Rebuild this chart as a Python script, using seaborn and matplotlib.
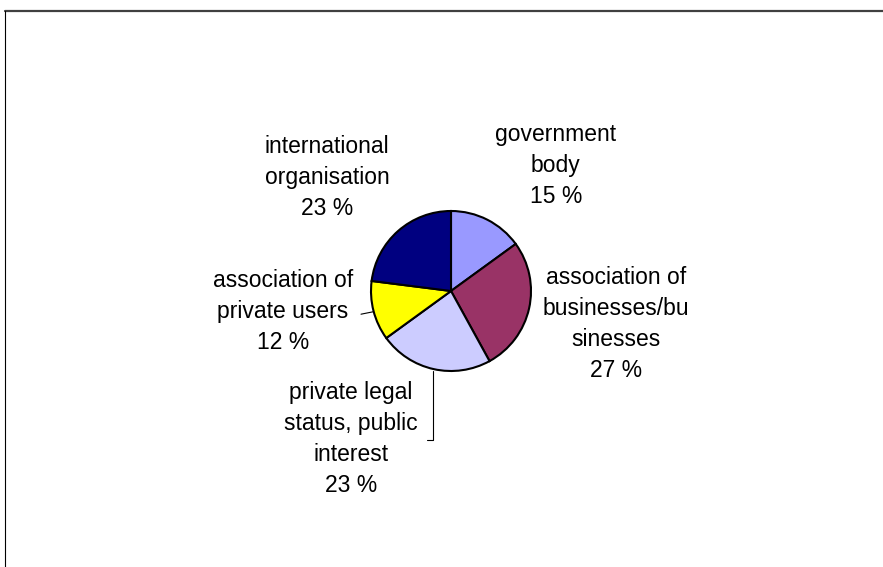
import matplotlib
matplotlib.use("Agg")
import matplotlib.pyplot as plt
from matplotlib.lines import Line2D
import seaborn as sns

labels = ["government\nbody", "association of\nbusinesses/bu\nsinesses",
          "private legal\nstatus, public\ninterest", "association of\nprivate users",
          "international\norganisation"]
shares = [15, 27, 23, 12, 23]
colors = ["#9999FF", "#993366", "#CCCCFF", "#FFFF00", "#000080"]

# label centres in pie-radius units (layout only)
label_pos = [(1.31, 1.57), (2.06, -0.41), (-1.25, -1.85), (-2.10, -0.26), (-1.55, 1.42)]

sns.set_style("white")
plt.rcParams["font.family"] = ["Liberation Sans", "DejaVu Sans"]

W, H = 883, 567
fig = plt.figure(figsize=(W / 100, H / 100), dpi=100)

# pie centre (451, 291) px, radius 80 px; axes spans +-3 radii
cx, cy, r = 451, 291, 80
ax = fig.add_axes([(cx - 3 * r) / W, (H - cy - 3 * r) / H, 6 * r / W, 6 * r / H])
ax.pie(shares, colors=colors, startangle=90, counterclock=False, radius=1,
       wedgeprops=dict(edgecolor="black", linewidth=1.5))
ax.set_xlim(-3, 3)
ax.set_ylim(-3, 3)
ax.set_aspect("equal")
ax.axis("off")

for lab, val, (x, y) in zip(labels, shares, label_pos):
    ax.text(x, y, f"{lab}\n{val} %", ha="center", va="center",
            fontsize=16.5, linespacing=1.45, color="black")

# leader lines
ax.plot([-0.23, -0.23, -0.30], [-1.0, -1.86, -1.86], color="black", lw=0.8)
ax.plot([-0.975, -1.125], [-0.26, -0.29], color="black", lw=0.8)

# outer frame (top and left edges visible)
fig.add_artist(Line2D([4.5 / W, 1], [1 - 10.5 / H, 1 - 10.5 / H],
                      transform=fig.transFigure, color="#404040", lw=1.6))
fig.add_artist(Line2D([4.5 / W, 4.5 / W], [0, 1 - 10.5 / H],
                      transform=fig.transFigure, color="black", lw=0.8))

fig.savefig("out.png", dpi=100)
plt.close(fig)
